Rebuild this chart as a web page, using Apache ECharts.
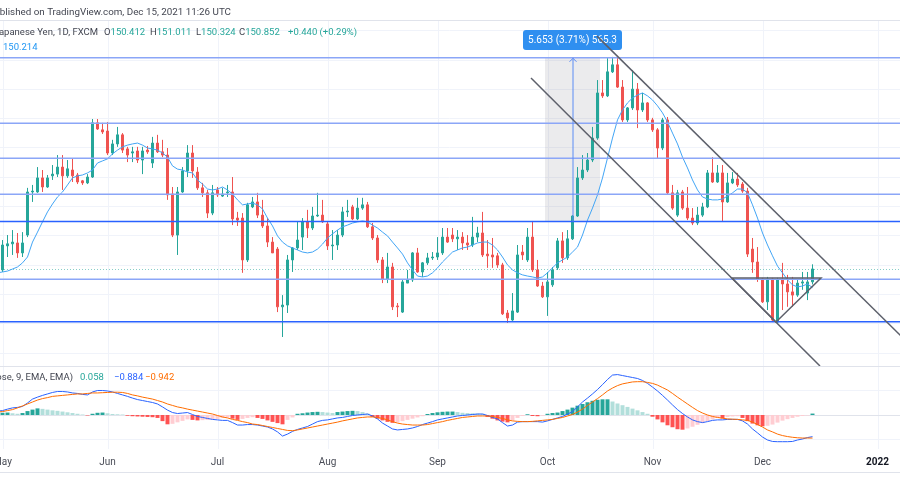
<!DOCTYPE html>
<html>
<head>
<meta charset="utf-8">
<script src="https://cdn.jsdelivr.net/npm/echarts@6/dist/echarts.min.js"></script>
<style>
  html, body { margin: 0; padding: 0; background: #fff; }
  #chart { width: 900px; height: 500px; }
</style>
</head>
<body>
<div id="chart"></div>
<script>
// GBPJPY 1D (FXCM), one row per weekday from 30 Apr 2021 to 15 Dec 2021
var firstDay = '2021-04-30';
var dayCount = 181; // candles + empty days up to 7 Jan 2022

// [open, close, low, high]
var ohlc = [
  [150.61,150.89,150.48,151.09],[150.82,151.67,150.75,151.84],[151.64,151.71,151.26,152.01],[151.71,151.77,151.33,152.18],
  [151.74,151.40,151.23,152.08],[151.40,151.74,151.26,152.11],[152.01,153.48,151.94,153.62],[153.48,153.51,153.14,153.72],
  [153.48,153.96,153.45,154.33],[153.96,153.65,153.48,154.23],[153.65,153.96,153.62,154.06],[154.03,154.09,153.89,154.40],
  [154.09,154.33,153.99,154.74],[154.33,154.03,153.55,154.74],[154.03,154.27,153.96,154.57],[154.23,154.03,153.82,154.61],
  [154.06,153.82,153.75,154.13],[153.86,153.79,153.72,153.89],[153.79,153.99,153.75,154.09],[153.99,155.84,153.96,155.97],
  [155.84,155.63,155.60,155.97],[155.60,155.53,155.46,155.84],[155.56,154.81,154.74,155.87],[154.81,155.12,154.74,155.26],
  [155.12,155.43,155.02,155.70],[155.43,154.91,154.81,155.49],[154.95,154.74,154.50,155.02],[154.81,154.85,154.50,155.02],
  [154.88,154.57,154.47,155.02],[154.57,154.88,154.09,155.02],[154.91,154.85,154.78,155.05],[154.47,155.15,154.30,155.36],
  [155.15,154.85,154.81,155.43],[154.85,154.74,154.67,155.26],[154.74,153.38,153.21,154.98],[153.41,152.01,151.94,153.65],
  [152.01,153.48,151.33,153.65],[153.48,154.20,153.45,154.33],[154.20,154.81,153.99,155.08],[154.81,154.20,153.96,155.08],
  [154.16,153.62,153.55,154.33],[153.62,153.45,153.31,153.79],[153.45,152.76,152.59,153.55],[152.76,153.45,152.69,153.72],
  [153.55,153.38,153.31,153.65],[153.34,153.41,153.31,153.62],[153.45,153.48,153.31,153.72],[153.48,152.56,152.35,153.99],
  [152.59,152.52,152.32,152.80],[152.59,151.16,150.72,152.76],[151.16,153.04,151.09,153.11],[152.97,153.14,152.93,153.31],
  [153.14,152.69,152.59,153.45],[152.69,152.32,152.25,153.21],[152.32,151.77,151.60,152.59],[151.77,151.40,151.40,151.94],
  [151.53,149.56,149.38,151.60],[149.56,149.62,148.53,149.96],[149.62,151.16,149.35,151.33],[151.16,151.57,150.75,151.60],
  [151.57,151.84,151.50,152.46],[151.94,152.46,151.50,152.59],[152.46,152.25,151.91,152.87],[152.25,152.66,152.18,152.97],
  [152.66,152.69,152.63,153.45],[152.69,152.46,152.42,153.21],[152.39,151.64,151.50,152.49],[151.64,151.67,151.16,152.18],
  [151.67,152.01,151.50,152.18],[152.01,152.80,151.94,152.97],[152.80,152.83,152.63,153.21],[152.97,152.56,152.52,153.04],
  [152.56,152.93,152.52,153.28],[152.93,153.04,152.87,153.28],[153.04,152.29,152.25,153.14],[152.29,151.91,151.84,152.42],
  [151.91,151.16,151.06,152.01],[151.16,150.51,150.37,151.26],[150.51,150.92,150.37,151.40],[150.92,149.56,149.45,151.06],
  [149.59,149.56,149.21,149.69],[149.38,150.41,149.35,150.48],[150.37,150.48,150.37,150.82],[150.48,151.40,150.41,151.43],
  [151.40,150.75,150.72,151.57],[150.75,151.06,150.58,151.09],[151.06,151.23,150.99,151.40],[151.23,151.26,151.16,151.43],
  [151.26,151.40,151.16,151.94],[151.40,151.94,151.33,152.25],[151.94,151.77,151.74,152.25],[152.01,151.88,151.77,152.25],
  [151.88,151.94,151.50,152.18],[151.94,151.74,151.50,152.11],[151.74,151.67,151.50,152.01],[151.67,151.94,151.60,152.63],
  [151.94,152.08,151.77,152.29],[152.08,151.33,151.26,152.80],[151.36,151.30,150.89,151.84],[151.33,151.26,150.89,151.91],
  [151.30,150.99,150.89,151.40],[150.99,149.32,149.28,151.06],[149.35,149.18,149.01,149.45],[149.11,149.42,149.08,150.03],
  [149.38,151.33,149.35,151.67],[151.43,151.33,151.16,151.67],[151.16,151.94,151.09,152.25],[151.94,150.82,150.75,152.49],
  [150.82,150.27,150.24,151.16],[150.27,149.90,149.86,150.41],[149.90,150.41,149.25,150.75],[150.31,150.82,150.24,150.92],
  [150.89,151.81,150.82,151.91],[151.81,151.23,151.06,152.11],[151.23,151.88,151.16,152.18],[151.88,152.66,151.84,152.69],
  [152.66,153.96,152.63,154.33],[153.96,154.23,153.89,154.74],[154.23,154.57,154.16,154.81],[154.57,155.32,154.50,155.70],
  [155.32,156.86,155.26,157.30],[156.86,156.76,156.69,157.30],[156.76,157.58,156.72,158.05],[157.58,157.82,157.54,158.09],
  [157.82,157.06,157.03,158.09],[157.06,155.94,155.87,157.30],[155.94,156.35,155.87,156.38],[156.35,156.99,156.28,157.64],
  [156.99,156.28,155.66,157.20],[156.28,156.52,156.21,156.86],[156.52,155.94,155.87,156.55],[155.94,155.60,155.53,156.01],
  [155.60,154.98,154.64,155.66],[154.98,155.94,154.91,156.01],[155.94,153.45,153.38,156.04],[153.45,152.93,152.87,153.72],
  [152.69,153.45,152.63,153.55],[153.48,152.93,152.87,153.55],[152.93,152.59,152.52,153.65],[152.59,152.42,152.35,152.93],
  [152.42,152.69,152.35,152.97],[152.69,152.97,152.63,153.11],[152.97,154.13,152.93,154.23],[154.13,153.82,153.79,154.67],
  [153.82,154.13,153.79,154.40],[154.13,153.14,152.49,154.40],[153.14,153.79,153.11,154.13],[153.79,153.92,153.75,154.16],
  [153.92,153.72,153.65,154.13],[153.75,153.51,153.45,153.82],[153.51,151.36,151.26,153.62],[151.53,151.09,150.72,151.91],
  [151.09,150.51,150.41,151.60],[150.51,149.73,149.69,150.55],[149.73,150.51,149.45,150.58],[150.51,149.11,149.04,150.55],
  [149.04,150.48,149.01,150.55],[150.48,150.34,149.45,151.06],[150.34,150.07,149.56,150.65],[150.07,149.96,149.56,150.58],
  [149.96,150.37,149.90,150.48],[150.37,150.41,150.14,150.75],[150.03,150.41,149.79,150.75],[150.412,150.852,150.324,151.011]
];

// moving average
var maLine = [
  150.72,150.75,150.78,150.85,150.92,151.06,151.26,151.77,152.11,152.46,
  152.80,153.07,153.31,153.48,153.72,153.96,154.03,154.06,154.13,154.23,
  154.47,154.54,154.61,154.78,154.91,155.02,155.08,155.12,155.15,155.08,
  154.98,154.95,154.91,154.81,154.67,154.37,154.26,154.23,154.16,154.13,
  153.89,153.75,153.58,153.55,153.58,153.65,153.55,153.41,153.21,153.04,
  153.07,153.10,153.04,152.90,152.59,152.32,151.98,151.77,151.64,151.57,
  151.50,151.43,151.40,151.43,151.53,151.70,151.91,152.05,152.18,152.29,
  152.35,152.42,152.46,152.49,152.46,152.35,152.25,152.11,151.98,151.77,
  151.57,151.36,151.06,150.82,150.61,150.58,150.61,150.72,150.89,151.09,
  151.26,151.43,151.50,151.57,151.60,151.67,151.74,151.77,151.77,151.67,
  151.50,151.26,150.99,150.82,150.72,150.65,150.61,150.58,150.54,150.58,
  150.72,150.89,151.06,151.16,151.26,151.43,151.60,152.01,152.52,152.93,
  153.38,153.96,154.64,155.32,155.94,156.28,156.52,156.69,156.79,156.86,
  156.76,156.62,156.42,156.18,155.87,155.49,155.12,154.67,154.30,153.89,
  153.55,153.31,153.24,153.21,153.21,153.24,153.34,153.45,153.58,153.58,
  153.45,153.04,152.59,152.08,151.67,151.30,150.95,150.72,150.48,150.31,
  150.24,150.27,150.34,150.214
];

var macdLine = [
  0.16,0.18,0.24,0.29,0.31,0.35,0.49,0.65,0.73,0.80,
  0.86,0.92,0.96,0.96,0.94,0.90,0.88,0.84,0.82,0.94,
  1.00,1.00,0.98,0.94,0.88,0.82,0.76,0.69,0.63,0.59,
  0.55,0.51,0.45,0.33,0.20,0.10,0.06,0.08,0.10,0.02,
  -0.06,-0.10,-0.14,-0.18,-0.20,-0.22,-0.22,-0.31,-0.41,-0.41,
  -0.39,-0.39,-0.41,-0.45,-0.49,-0.57,-0.69,-0.86,-0.78,-0.67,
  -0.59,-0.53,-0.47,-0.37,-0.27,-0.22,-0.20,-0.16,-0.12,-0.10,
  -0.06,-0.02,0,0.02,0.04,-0.04,-0.16,-0.33,-0.45,-0.57,
  -0.61,-0.59,-0.57,-0.53,-0.47,-0.39,-0.33,-0.27,-0.20,-0.16,
  -0.12,-0.08,-0.04,-0.02,0,0.02,0.04,0.04,-0.02,-0.10,
  -0.16,-0.31,-0.45,-0.41,-0.29,-0.27,-0.27,-0.27,-0.27,-0.29,
  -0.24,-0.18,-0.12,-0.06,0.04,0.14,0.33,0.53,0.69,0.86,
  1.04,1.24,1.45,1.63,1.65,1.61,1.57,1.53,1.49,1.41,
  1.29,1.14,0.98,0.80,0.61,0.41,0.22,0.06,-0.08,-0.20,
  -0.27,-0.31,-0.27,-0.22,-0.20,-0.20,-0.18,-0.18,-0.18,-0.24,
  -0.37,-0.57,-0.73,-0.90,-1.02,-1.08,-1.09,-1.09,-1.09,-1.08,
  -1.02,-0.98,-0.92,-0.884
];

var signalLine = [
  0.12,0.14,0.18,0.22,0.29,0.37,0.45,0.53,0.61,0.67,
  0.71,0.76,0.78,0.80,0.82,0.84,0.86,0.86,0.88,0.90,
  0.90,0.91,0.92,0.93,0.93,0.92,0.88,0.82,0.78,0.73,
  0.69,0.65,0.59,0.53,0.45,0.39,0.33,0.29,0.24,0.20,
  0.16,0.12,0.08,0.04,-0.02,-0.08,-0.12,-0.18,-0.22,-0.27,
  -0.31,-0.37,-0.39,-0.43,-0.47,-0.51,-0.55,-0.59,-0.63,-0.64,
  -0.61,-0.57,-0.53,-0.49,-0.45,-0.41,-0.37,-0.33,-0.29,-0.24,
  -0.20,-0.16,-0.12,-0.10,-0.08,-0.08,-0.10,-0.14,-0.20,-0.27,
  -0.33,-0.37,-0.39,-0.41,-0.41,-0.41,-0.39,-0.35,-0.31,-0.27,
  -0.22,-0.18,-0.14,-0.10,-0.08,-0.06,-0.04,-0.04,-0.04,-0.06,
  -0.10,-0.14,-0.20,-0.24,-0.26,-0.27,-0.27,-0.26,-0.24,-0.22,
  -0.20,-0.18,-0.14,-0.10,-0.04,0.02,0.12,0.24,0.39,0.53,
  0.67,0.82,0.98,1.10,1.20,1.27,1.31,1.35,1.36,1.36,
  1.33,1.29,1.22,1.12,1.02,0.88,0.73,0.59,0.45,0.31,
  0.18,0.08,0,-0.06,-0.10,-0.13,-0.16,-0.17,-0.18,-0.20,
  -0.22,-0.29,-0.39,-0.49,-0.61,-0.69,-0.78,-0.84,-0.88,-0.91,
  -0.93,-0.94,-0.94,-0.942
];

var histogram = [
  0.08,0.09,0.10,0.07,0.05,0.08,0.16,0.22,0.27,0.25,
  0.22,0.19,0.17,0.14,0.11,0.08,0.05,0.02,-0.02,0.05,
  0.09,0.10,0.07,0.04,0.03,0.02,-0.03,-0.05,-0.06,-0.07,
  -0.08,-0.09,-0.12,-0.25,-0.38,-0.36,-0.30,-0.24,-0.18,-0.20,
  -0.22,-0.21,-0.20,-0.18,-0.16,-0.12,-0.10,-0.15,-0.20,-0.16,
  -0.12,-0.09,-0.12,-0.16,-0.22,-0.28,-0.33,-0.38,-0.20,-0.10,
  0.05,0.07,0.10,0.12,0.13,0.12,0.10,0.08,0.12,0.14,
  0.16,0.17,0.16,0.12,0.06,-0.08,-0.15,-0.22,-0.28,-0.32,
  -0.30,-0.25,-0.20,-0.15,-0.10,-0.05,0.04,0.08,0.11,0.13,
  0.14,0.14,0.12,0.09,0.08,0.07,0.06,0.05,-0.08,-0.15,
  -0.22,-0.27,-0.30,-0.22,-0.12,-0.04,0.03,-0.04,-0.05,-0.03,
  0.05,0.08,0.10,0.16,0.22,0.30,0.38,0.45,0.52,0.58,
  0.62,0.64,0.64,0.55,0.47,0.40,0.33,0.26,0.19,0.12,
  0.05,-0.07,-0.18,-0.30,-0.42,-0.50,-0.58,-0.60,-0.55,-0.48,
  -0.40,-0.33,-0.25,-0.18,-0.12,-0.14,-0.08,-0.06,-0.05,-0.12,
  -0.25,-0.35,-0.42,-0.46,-0.44,-0.39,-0.31,-0.23,-0.17,-0.12,
  -0.07,-0.04,-0.02,0.058
];

// horizontal levels drawn by the author
var lightLevels = [158.06, 155.83, 154.63, 153.40, 150.50];
var strongLevels = [152.47, 149.05];
var lastClose = 150.852;

// trend drawings as [bar index, price]
var upperChannel = [[119.9, 158.80], [181.5, 148.43]];
var lowerChannel = [[106.7, 157.37], [164.5, 147.54]];
var triangle = [[146.9, 150.54], [164.7, 150.54], [155.7, 149.04]];
var rangeFrom = [109.5, 152.47];
var rangeTo = [120.5, 158.06];
var rangeArrowAt = 115.1;
var rangeLabelAt = [115, 158.67];
var rangeLabel = '5.653 (3.71%) 565.3';

var priceGrid = [148, 149, 150, 151, 152, 153, 154, 155, 156, 157, 158, 159];
var macdGrid = [-1, 0, 1];
var monthNames = ['Jan','Feb','Mar','Apr','May','Jun','Jul','Aug','Sep','Oct','Nov','Dec'];

var dates = [];
for (var d = new Date(firstDay + 'T00:00:00Z'); dates.length < dayCount; d.setUTCDate(d.getUTCDate() + 1)) {
  var wd = d.getUTCDay();
  if (wd !== 0 && wd !== 6) dates.push(d.toISOString().slice(0, 10));
}
function isMonthStart(i) {
  return i > 0 && dates[i].slice(5, 7) !== dates[i - 1].slice(5, 7);
}
var monthStarts = [];
dates.forEach(function (v, i) { if (isMonthStart(i)) monthStarts.push(i); });

var UP = '#26a69a', DOWN = '#ef5350';
var font = 'Roboto, sans-serif';
var legendFont = '9.5px ' + font;

function line(a, b, style) {
  return { type: 'line', shape: { x1: a[0], y1: a[1], x2: b[0], y2: b[1] }, style: style };
}

// faint grid, month lines and the grey range box under the candles
function drawPaneGrid(params, api) {
  var r = params.coordSys, kids = [];
  priceGrid.forEach(function (p) {
    var y = Math.round(api.coord([0, p])[1]) + 0.5;
    kids.push(line([r.x, y], [r.x + r.width, y], { stroke: '#f0f3fa', lineWidth: 1 }));
  });
  monthStarts.forEach(function (i) {
    var x = Math.round(api.coord([i, 150])[0]) + 0.5;
    kids.push(line([x, r.y], [x, r.y + r.height], { stroke: '#f0f3fa', lineWidth: 1 }));
  });
  var a = api.coord(rangeFrom), b = api.coord(rangeTo);
  kids.push({ type: 'rect', shape: { x: a[0], y: b[1], width: b[0] - a[0], height: a[1] - b[1] },
    style: { fill: 'rgba(120,123,134,0.15)' } });
  var yc = Math.round(api.coord([0, lastClose])[1]) + 0.5;
  kids.push(line([r.x, yc], [r.x + r.width, yc], { stroke: 'rgba(38,166,154,0.55)', lineWidth: 1, lineDash: [1, 2] }));
  return { type: 'group', children: kids };
}

function drawMacdGrid(params, api) {
  var r = params.coordSys, kids = [];
  macdGrid.forEach(function (v) {
    var y = Math.round(api.coord([0, v])[1]) + 0.5;
    kids.push(line([r.x, y], [r.x + r.width, y], { stroke: '#f0f3fa', lineWidth: 1 }));
  });
  monthStarts.forEach(function (i) {
    var x = Math.round(api.coord([i, 0])[0]) + 0.5;
    kids.push(line([x, r.y], [x, r.y + r.height], { stroke: '#f0f3fa', lineWidth: 1 }));
  });
  return { type: 'group', children: kids };
}

// levels, price range tool, channel and triangle above the candles
function drawOverlays(params, api) {
  var r = params.coordSys, kids = [];
  lightLevels.forEach(function (p) {
    var y = api.coord([0, p])[1];
    kids.push(line([r.x, y], [r.x + r.width, y], { stroke: '#8ba6f7', lineWidth: 1.5 }));
  });
  strongLevels.forEach(function (p) {
    var y = api.coord([0, p])[1];
    kids.push(line([r.x, y], [r.x + r.width, y], { stroke: '#2962ff', lineWidth: 1.6 }));
  });

  var ax = api.coord([rangeArrowAt, rangeFrom[1]]), at = api.coord([rangeArrowAt, rangeTo[1]]);
  kids.push(line(ax, at, { stroke: '#5b8cf5', lineWidth: 1 }));
  kids.push({ type: 'polyline', shape: { points: [[at[0] - 3.5, at[1] + 4], [at[0], at[1] + 0.5], [at[0] + 3.5, at[1] + 4]] },
    style: { stroke: '#5b8cf5', lineWidth: 1, fill: 'none' } });

  var lc = api.coord(rangeLabelAt);
  kids.push({ type: 'rect', shape: { x: lc[0] - 49.5, y: lc[1] - 10, width: 99, height: 20, r: 3 },
    style: { fill: '#2f8ff0' } });
  kids.push({ type: 'text', x: lc[0], y: lc[1] + 0.5,
    style: { text: rangeLabel, fill: '#fff', font: '10px ' + font, align: 'center', verticalAlign: 'middle' } });

  var grey = { stroke: '#5d606b', lineWidth: 1.5 };
  kids.push(line(api.coord(upperChannel[0]), api.coord(upperChannel[1]), grey));
  kids.push(line(api.coord(lowerChannel[0]), api.coord(lowerChannel[1]), grey));
  var t = triangle.map(function (p) { return api.coord(p); });
  kids.push({ type: 'polygon', shape: { points: t }, style: { fill: 'none', stroke: '#5d606b', lineWidth: 1.5 } });
  return { type: 'group', children: kids };
}

var histData = histogram.map(function (v, i) {
  var prev = i > 0 ? histogram[i - 1] : v;
  var c = v >= 0 ? (v >= prev ? '#26a69a' : '#b2dfdb') : (v <= prev ? '#ff5252' : '#ffcdd2');
  return { value: v, itemStyle: { color: c } };
});

function ohlcText(x, key, value) {
  return { type: 'text', z: 10, x: x, y: 33,
    style: { text: '{k|' + key + '}{v|' + value + '}', font: legendFont, verticalAlign: 'middle',
      rich: { k: { fill: '#434651', font: legendFont }, v: { fill: UP, font: legendFont } } } };
}

var chart = echarts.init(document.getElementById('chart'), null, { renderer: 'canvas' });
chart.setOption({
  animation: false,
  backgroundColor: '#ffffff',
  grid: [
    { left: -5, right: 0, top: 20, height: 346, outerBoundsMode: 'none' },
    { left: -5, right: 0, top: 366, height: 83, outerBoundsMode: 'none' }
  ],
  xAxis: [
    { type: 'category', gridIndex: 0, data: dates, boundaryGap: true,
      axisLine: { show: false }, axisTick: { show: false }, axisLabel: { show: false }, splitLine: { show: false } },
    { type: 'category', gridIndex: 1, data: dates, boundaryGap: true,
      axisLine: { show: true, lineStyle: { color: '#e0e3eb', width: 1 } },
      axisTick: { show: false }, splitLine: { show: false },
      axisLabel: {
        show: true, margin: 8, color: '#4a4d57', fontSize: 10, fontFamily: font,
        interval: function (i) { return isMonthStart(i); },
        formatter: function (v) {
          var m = +v.slice(5, 7) - 1;
          return m === 0 ? '{y|' + v.slice(0, 4) + '}' : monthNames[m];
        },
        rich: { y: { fontWeight: 'bold', fontSize: 10, color: '#131722', fontFamily: font } }
      } },
    { type: 'value', gridIndex: 0, min: -0.5, max: dayCount - 0.5, show: false }
  ],
  yAxis: [
    { type: 'value', gridIndex: 0, min: 147.54, max: 159.35, show: false, splitLine: { show: false } },
    { type: 'value', gridIndex: 1, min: -1.388, max: 2.0, show: false, splitLine: { show: false } }
  ],
  series: [
    { type: 'custom', name: 'grid', xAxisIndex: 2, yAxisIndex: 0, z: 0, silent: true,
      data: [[0, 150]], renderItem: drawPaneGrid },
    { type: 'custom', name: 'macdGrid', xAxisIndex: 1, yAxisIndex: 1, z: 0, silent: true,
      data: [[0, 0]], renderItem: drawMacdGrid },
    { type: 'candlestick', name: 'GBPJPY', xAxisIndex: 0, yAxisIndex: 0, z: 2,
      data: ohlc, barWidth: 3,
      itemStyle: { color: UP, color0: DOWN, borderColor: UP, borderColor0: DOWN, borderWidth: 1 } },
    { type: 'line', name: 'MA', xAxisIndex: 0, yAxisIndex: 0, z: 3, data: maLine,
      showSymbol: false, symbol: 'none', lineStyle: { color: '#42a5f5', width: 1 } },
    { type: 'custom', name: 'drawings', xAxisIndex: 2, yAxisIndex: 0, z: 5, silent: true, clip: true,
      data: [[0, 150]], renderItem: drawOverlays },
    { type: 'bar', name: 'Histogram', xAxisIndex: 1, yAxisIndex: 1, data: histData, barWidth: '80%', z: 2 },
    { type: 'line', name: 'MACD', xAxisIndex: 1, yAxisIndex: 1, data: macdLine, z: 3,
      showSymbol: false, symbol: 'none', lineStyle: { color: '#2962ff', width: 1 } },
    { type: 'line', name: 'Signal', xAxisIndex: 1, yAxisIndex: 1, data: signalLine, z: 3,
      showSymbol: false, symbol: 'none', lineStyle: { color: '#ff6d00', width: 1 } }
  ],
  graphic: [
    { type: 'line', z: 10, shape: { x1: 0, y1: 20.5, x2: 900, y2: 20.5 }, style: { stroke: '#e0e3eb', lineWidth: 1 } },
    { type: 'line', z: 10, shape: { x1: 0, y1: 366.5, x2: 900, y2: 366.5 }, style: { stroke: '#e0e3eb', lineWidth: 1 } },
    { type: 'line', z: 10, shape: { x1: 0, y1: 472.5, x2: 900, y2: 472.5 }, style: { stroke: '#e0e3eb', lineWidth: 1 } },
    { type: 'text', z: 10, x: 231, y: 13,
      style: { text: 'Published on TradingView.com, Dec 15, 2021 11:26 UTC', fill: '#434651', font: '9.8px ' + font, align: 'right', verticalAlign: 'middle' } },
    { type: 'text', z: 10, x: 98, y: 33,
      style: { text: 'British Pound / Japanese Yen, 1D, FXCM', fill: '#434651', font: legendFont, align: 'right', verticalAlign: 'middle' } },
    ohlcText(104, 'O', '150.412'),
    ohlcText(150, 'H', '151.011'),
    ohlcText(196, 'L', '150.324'),
    ohlcText(239, 'C', '150.852'),
    { type: 'text', z: 10, x: 288, y: 33,
      style: { text: '+0.440 (+0.29%)', fill: UP, font: legendFont, verticalAlign: 'middle' } },
    { type: 'text', z: 10, x: 3, y: 48,
      style: { text: '150.214', fill: '#2196f3', font: legendFont, verticalAlign: 'middle' } },
    { type: 'text', z: 10, x: 73, y: 378,
      style: { text: 'MACD 12 26 close, 9, EMA, EMA)', fill: '#434651', font: legendFont, align: 'right', verticalAlign: 'middle' } },
    { type: 'text', z: 10, x: 80, y: 378,
      style: { text: '0.058', fill: UP, font: legendFont, verticalAlign: 'middle' } },
    { type: 'text', z: 10, x: 114, y: 378,
      style: { text: '\u22120.884', fill: '#2962ff', font: legendFont, verticalAlign: 'middle' } },
    { type: 'text', z: 10, x: 145, y: 378,
      style: { text: '\u22120.942', fill: '#ff6d00', font: legendFont, verticalAlign: 'middle' } }
  ]
});
</script>
</body>
</html>
